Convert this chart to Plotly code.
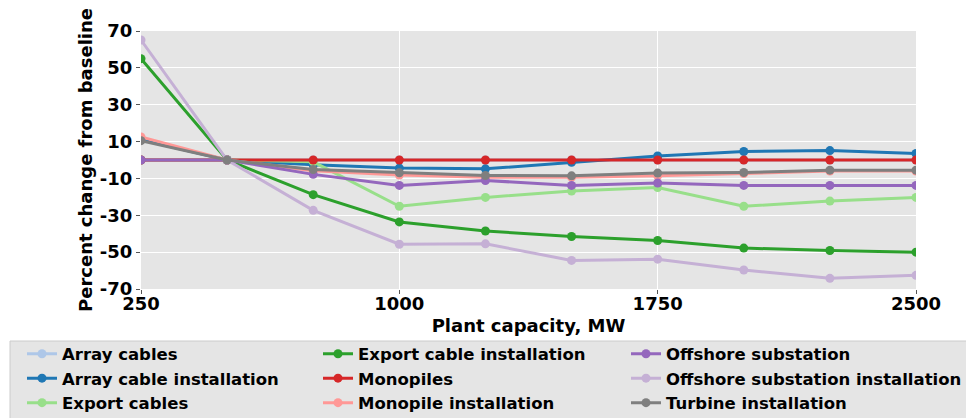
import plotly.graph_objects as go

# Plant capacity steps (MW)
capacity = [250, 500, 750, 1000, 1250, 1500, 1750, 2000, 2250, 2500]

# Percent change from the 500 MW baseline, per cost component
array_cables = [0, 0, 0, 0, 0, 0, 0, 0, 0, 0]
array_cable_installation = [11, 0, -2.6, -4.4, -4.8, -1.2, 2.2, 4.6, 5.1, 3.5]
export_cables = [0, 0, -1, -25.1, -20.3, -16.8, -14.9, -25.1, -22.3, -20.3]
export_cable_installation = [55, 0, -18.8, -33.6, -38.5, -41.5, -43.7, -47.8, -49.1, -50]
monopiles = [0, 0, 0, 0, 0, 0, 0, 0, 0, 0]
monopile_installation = [12.5, 0, -5.8, -8.2, -9.4, -9.3, -8.6, -7.3, -6.0, -6.0]
offshore_substation = [0, 0, -7.8, -13.8, -11.1, -13.8, -12.5, -13.8, -13.8, -13.8]
offshore_substation_installation = [65.1, 0, -27.3, -45.7, -45.5, -54.5, -53.8, -59.7, -64.2, -62.6]
turbine_installation = [10.5, 0, -5.2, -6.9, -8.4, -8.6, -7.1, -6.8, -5.5, -5.5]

x_ticks = [250, 1000, 1750, 2500]
y_ticks = [-70, -50, -30, -10, 10, 30, 50, 70]
y_tick_labels = ["-70", "-50", "-30", "-10", "10", "30", "50", "70"]

# (name, values, colour, legend column)
series = [
    ("Array cables", array_cables, "#aec7e8", "legend"),
    ("Array cable installation", array_cable_installation, "#1f77b4", "legend"),
    ("Export cables", export_cables, "#98df8a", "legend"),
    ("Export cable installation", export_cable_installation, "#2ca02c", "legend2"),
    ("Monopiles", monopiles, "#d62728", "legend2"),
    ("Monopile installation", monopile_installation, "#ff9896", "legend2"),
    ("Offshore substation", offshore_substation, "#9467bd", "legend3"),
    ("Offshore substation installation", offshore_substation_installation, "#c5b0d5", "legend3"),
    ("Turbine installation", turbine_installation, "#7f7f7f", "legend3"),
]

FONT = "DejaVu Sans"

fig = go.Figure()
for name, values, colour, leg in series:
    fig.add_trace(go.Scatter(
        x=capacity, y=values, name=name, mode="lines+markers",
        line=dict(color=colour, width=3),
        marker=dict(color=colour, size=9),
        legend=leg, cliponaxis=True,
    ))

W, H = 966, 418
L, R, T, B = 141, 50, 31, 129
pw, ph = W - L - R, H - T - B


def px_x(v):
    return (v - L) / pw


def px_y(v):
    return (T + ph - v) / ph


legend_font = dict(family=FONT, size=16.5, color="black", weight="bold")
legend_common = dict(
    orientation="v", xanchor="left", yanchor="top",
    bgcolor="rgba(0,0,0,0)", borderwidth=0, font=legend_font,
    tracegroupgap=0, y=px_y(336.5),
)

fig.update_layout(
    width=W, height=H,
    margin=dict(l=L, r=R, t=T, b=B, autoexpand=False),
    paper_bgcolor="white",
    plot_bgcolor="#e5e5e5",
    font=dict(family=FONT, color="black", size=18, weight="bold"),
    showlegend=True,
    legend=dict(x=px_x(22), **legend_common),
    legend2=dict(x=px_x(318), **legend_common),
    legend3=dict(x=px_x(626), **legend_common),
    shapes=[dict(
        type="rect", xref="paper", yref="paper", layer="below",
        x0=px_x(10), x1=px_x(W + 10),
        y0=px_y(430), y1=px_y(341),
        fillcolor="#e5e5e5", line=dict(color="#cccccc", width=1),
    )],
)

fig.update_xaxes(
    range=[250, 2500], tickvals=x_ticks, ticktext=[str(v) for v in x_ticks],
    showgrid=True, gridcolor="white", gridwidth=1.2, zeroline=False,
    ticks="outside", ticklen=4, tickwidth=1, tickcolor="#555555",
    tickfont=dict(size=18, family=FONT, weight="bold"),
    ticklabelstandoff=-6,
    showline=False,
    title=dict(text="Plant capacity, MW", standoff=6,
               font=dict(size=18, family=FONT, weight="bold")),
    automargin=False,
)
fig.update_yaxes(
    range=[-70, 70], tickvals=y_ticks, ticktext=y_tick_labels,
    showgrid=True, gridcolor="white", gridwidth=1.2, zeroline=False,
    ticks="outside", ticklen=4, tickwidth=1, tickcolor="#555555",
    tickfont=dict(size=18, family=FONT, weight="bold"),
    showline=False,
    title=dict(text="Percent change from baseline", standoff=2,
               font=dict(size=18, family=FONT, weight="bold")),
    automargin=False,
)

fig.write_html("out.html")
